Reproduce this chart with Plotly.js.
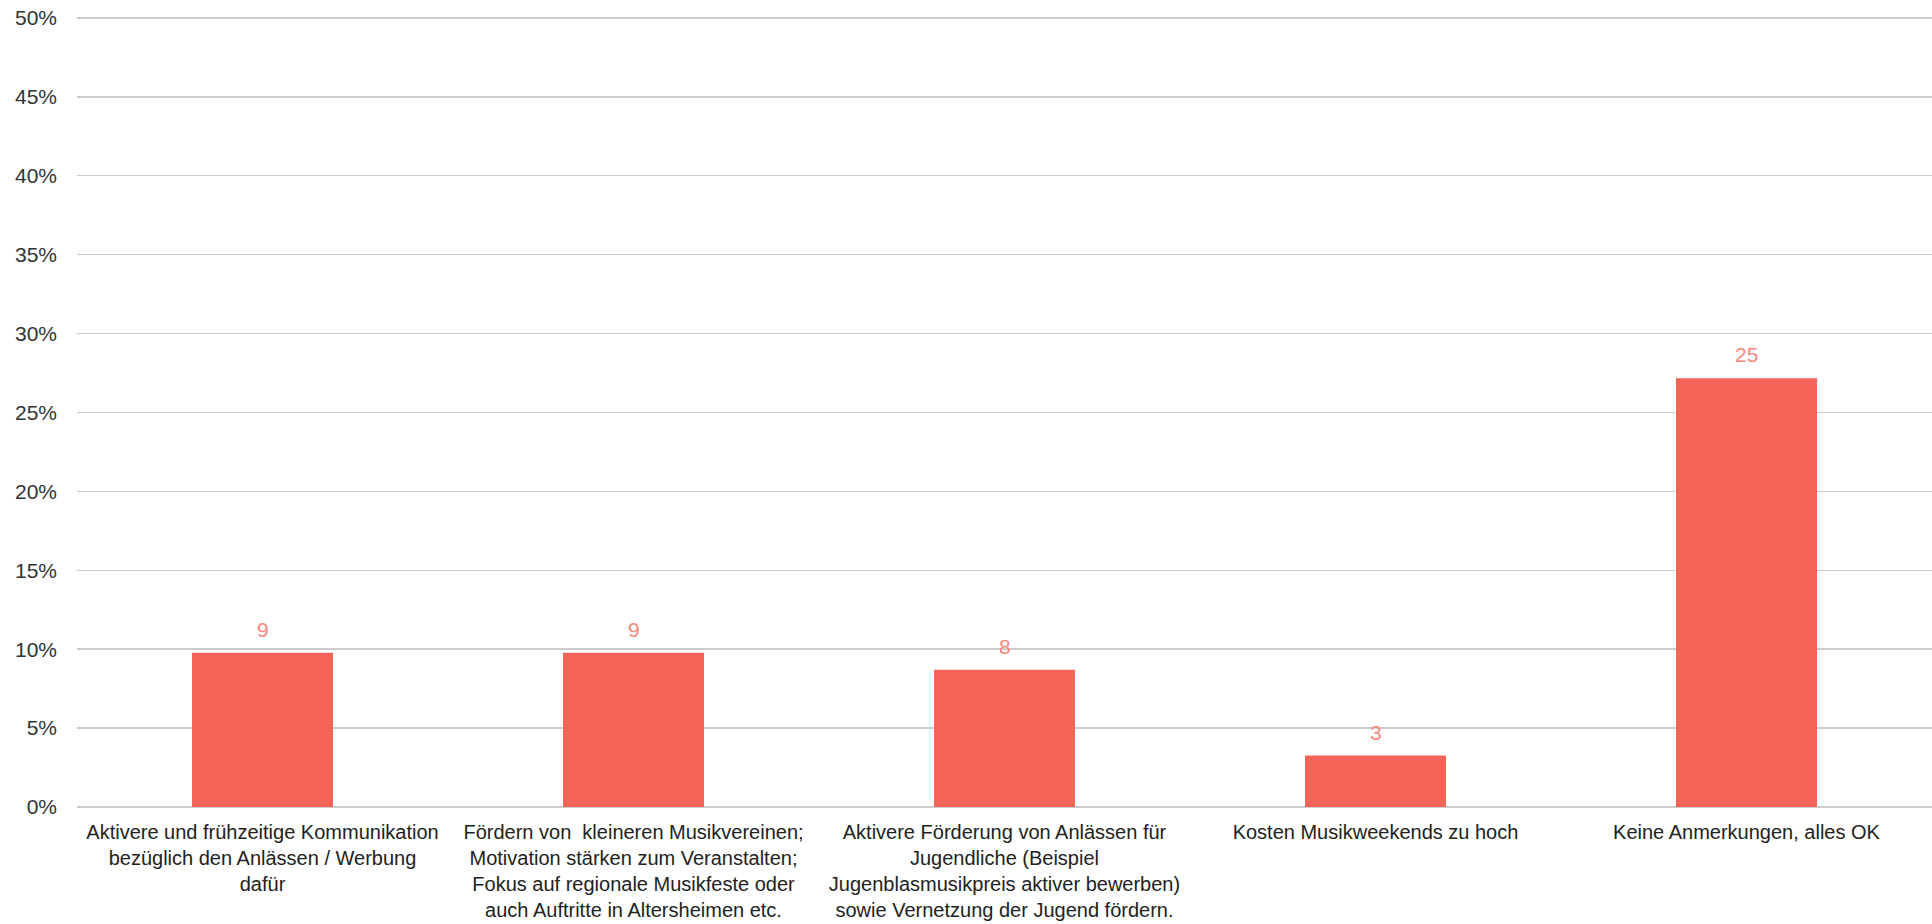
<!DOCTYPE html>
<html>
<head>
<meta charset="utf-8">
<script src="https://cdn.plot.ly/plotly-3.0.1.min.js"></script>
<style>html,body{margin:0;padding:0;background:#fff;}#chart{width:1932px;height:924px;}</style>
</head>
<body>
<div id="chart"></div>
<script>
const categories = [
  "Aktivere und frühzeitige Kommunikation<br>bezüglich den Anlässen / Werbung<br>dafür",
  "Fördern von  kleineren Musikvereinen;<br>Motivation stärken zum Veranstalten;<br>Fokus auf regionale Musikfeste oder<br>auch Auftritte in Altersheimen etc.",
  "Aktivere Förderung von Anlässen für<br>Jugendliche (Beispiel<br>Jugenblasmusikpreis aktiver bewerben)<br>sowie Vernetzung der Jugend fördern.",
  "Kosten Musikweekends zu hoch",
  "Keine Anmerkungen, alles OK"
];
const counts = [9, 9, 8, 3, 25];
const shares = [0.0978, 0.0978, 0.0870, 0.0326, 0.2717];
const yTickValues = [0, 0.05, 0.10, 0.15, 0.20, 0.25, 0.30, 0.35, 0.40, 0.45, 0.50];

const FONT = "Liberation Sans, Arial, sans-serif";

const trace = {
  type: 'bar',
  x: categories,
  y: shares,
  marker: {color: '#F56457'},
  width: 0.38,
  hoverinfo: 'skip'
};

const annotations = categories.map((c, i) => ({
  x: c, y: shares[i], xref: 'x', yref: 'y',
  text: String(counts[i]),
  showarrow: false, yanchor: 'bottom', yshift: 10,
  font: {family: FONT, size: 21, color: '#F8877C'}
}));

const layout = {
  width: 1932, height: 924,
  margin: {l: 77, r: 0, t: 16, b: 117},
  paper_bgcolor: '#fff', plot_bgcolor: '#fff',
  showlegend: false,
  font: {family: FONT, size: 21, color: '#222'},
  bargap: 0.62,
  xaxis: {
    type: 'category',
    showgrid: false, zeroline: false, showline: false,
    ticks: '', ticklabelstandoff: 11,
    tickfont: {family: FONT, size: 20, color: '#222'}
  },
  yaxis: {
    range: [0, 0.5012], tickvals: yTickValues, tickformat: '.0%',
    showgrid: true, gridcolor: '#CCCCCC', gridwidth: 1.5,
    zeroline: true, zerolinecolor: '#CCCCCC', zerolinewidth: 1.5,
    showline: false, ticks: '', ticklabelstandoff: 19,
    tickfont: {family: FONT, size: 21, color: '#333'}
  },
  annotations: annotations
};

Plotly.newPlot('chart', [trace], layout, {displayModeBar: false, staticPlot: true});
</script>
</body>
</html>
